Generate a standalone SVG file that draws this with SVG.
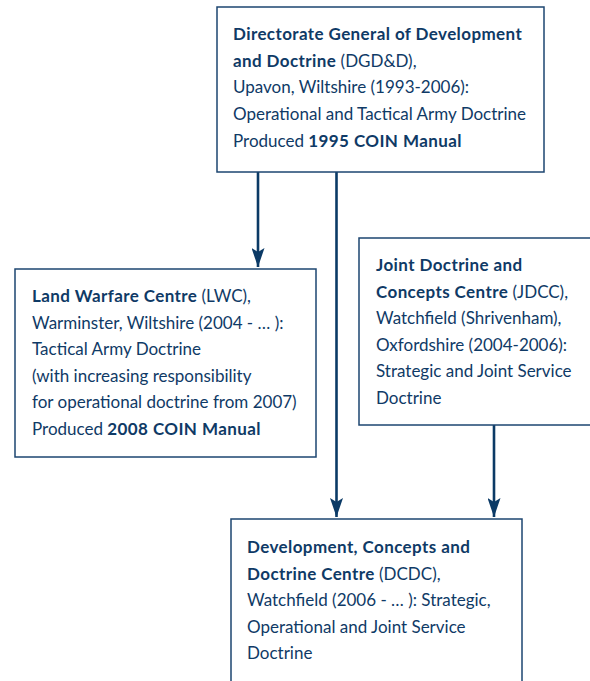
<svg xmlns="http://www.w3.org/2000/svg" width="590" height="681" viewBox="0 0 590 681">
<defs>
<marker id="ah" markerWidth="19" markerHeight="13" refX="19" refY="6.5" orient="auto" markerUnits="userSpaceOnUse" viewBox="0 0 19 13">
<path d="M0,0 L19,6.5 L0,13 L4,6.5 Z" fill="#0b3a66"/>
</marker>
<style>
.box{fill:#ffffff;stroke:#1d4670;stroke-width:1.5}
.t{font-family:Lato,"Open Sans","Liberation Sans",sans-serif;font-size:17px;fill:#0f3a66}
.b{font-weight:bold;letter-spacing:0.4px}
.ln{stroke:#0b3a66;stroke-width:2.6;fill:none}
</style>
</defs>
<rect width="590" height="681" fill="#ffffff"/>
<g id="connectors">
<line class="ln" x1="258" y1="172" x2="258" y2="267" marker-end="url(#ah)"/>
<line class="ln" x1="336.5" y1="172" x2="336.5" y2="517" marker-end="url(#ah)"/>
<line class="ln" x1="494" y1="425" x2="494" y2="517" marker-end="url(#ah)"/>
</g>
<g id="dgdd">
<rect class="box" x="217" y="7" width="327" height="165"/>
<text class="t" x="233" y="40"><tspan class="b">Directorate General of Development</tspan></text>
<text class="t" x="233" y="67"><tspan class="b">and Doctrine</tspan> (DGD&amp;D),</text>
<text class="t" x="233" y="93">Upavon, Wiltshire (1993-2006):</text>
<text class="t" x="233" y="120">Operational and Tactical Army Doctrine</text>
<text class="t" x="233" y="147">Produced <tspan class="b">1995 COIN Manual</tspan></text>
</g>
<g id="lwc">
<rect class="box" x="15" y="269" width="301" height="188"/>
<text class="t" x="32" y="302"><tspan class="b">Land Warfare Centre</tspan> (LWC),</text>
<text class="t" x="32" y="328.5">Warminster, Wiltshire (2004 - … ):</text>
<text class="t" x="32" y="355">Tactical Army Doctrine</text>
<text class="t" x="32" y="381.5">(with increasing responsibility</text>
<text class="t" x="32" y="408">for operational doctrine from 2007)</text>
<text class="t" x="32" y="434.5">Produced <tspan class="b">2008 COIN Manual</tspan></text>
</g>
<g id="jdcc">
<rect class="box" x="359" y="238" width="240" height="187"/>
<text class="t" x="376" y="271"><tspan class="b">Joint Doctrine and</tspan></text>
<text class="t" x="376" y="297.5"><tspan class="b">Concepts Centre</tspan> (JDCC),</text>
<text class="t" x="376" y="324">Watchfield (Shrivenham),</text>
<text class="t" x="376" y="350.5">Oxfordshire (2004-2006):</text>
<text class="t" x="376" y="377">Strategic and Joint Service</text>
<text class="t" x="376" y="403.5">Doctrine</text>
</g>
<g id="dcdc">
<rect class="box" x="231" y="519" width="291" height="180"/>
<text class="t" x="247" y="553"><tspan class="b">Development, Concepts and</tspan></text>
<text class="t" x="247" y="579.5"><tspan class="b">Doctrine Centre</tspan> (DCDC),</text>
<text class="t" x="247" y="606">Watchfield (2006 - … ): Strategic,</text>
<text class="t" x="247" y="632.5">Operational and Joint Service</text>
<text class="t" x="247" y="659">Doctrine</text>
</g>
</svg>
